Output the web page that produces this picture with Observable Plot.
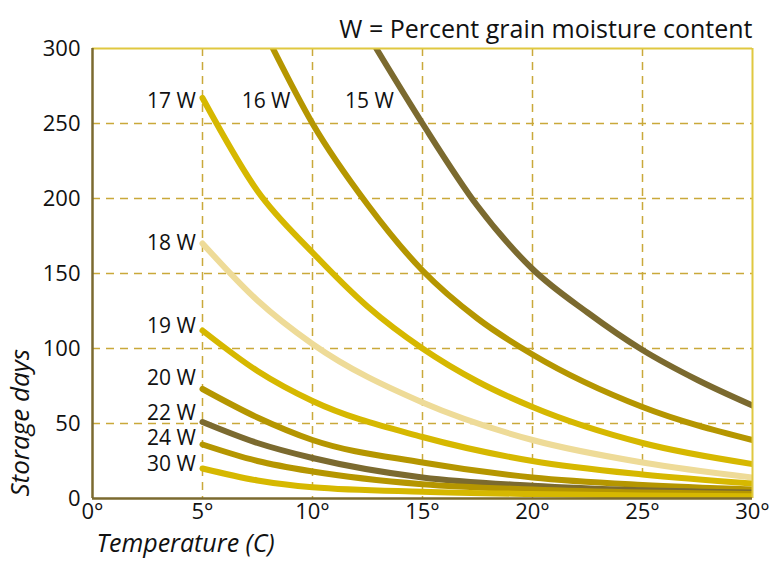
<!DOCTYPE html>
<html><head><meta charset="utf-8">
<script src="https://cdn.jsdelivr.net/npm/d3@7"></script>
<script src="https://cdn.jsdelivr.net/npm/@observablehq/plot@0.6"></script>
<style>
body{margin:0;background:#fff;}
#chart svg{font-family:"Open Sans","Noto Sans",sans-serif;}
</style></head>
<body><div id="chart"></div>
<script>
// Series: moisture content labels, temperatures (°C) and storage days
const series = ["15 W","16 W","17 W","18 W","19 W","20 W","22 W","24 W","30 W"];
const temps15 = [12.9, 15, 17.5, 20, 22.5, 25, 27.5, 30];
const days15  = [300, 250, 195, 153, 124, 99, 79, 62];
const temps16 = [8.2, 10, 12.5, 15, 17.5, 20, 25, 30];
const days16  = [300, 250, 196, 152, 120, 96, 61, 39];
const temps17 = [5, 7.5, 10, 12.5, 15, 17.5, 20, 25, 30];
const days17  = [267, 205, 164, 128, 100, 78, 61, 37, 23];
const temps18 = [5, 7.5, 10, 15, 20, 25, 30];
const days18  = [170, 132, 103, 64, 39, 24, 14];
const temps19 = [5, 7.5, 10, 15, 20, 25, 30];
const days19  = [112, 85, 65, 41, 25, 16, 10];
const temps20 = [5, 7.5, 10, 15, 20, 25, 30];
const days20  = [73, 54, 39, 24, 14, 9, 6];
const temps22 = [5, 7.5, 10, 15, 20, 25, 30];
const days22  = [51, 37, 27, 14, 8.5, 5.5, 4];
const temps24 = [5, 7.5, 10, 15, 20, 25, 30];
const days24  = [36, 25, 18, 9.5, 6, 4, 3];
const temps30 = [5, 7.5, 10, 15, 20, 25, 30];
const days30  = [20, 12, 7.5, 4.5, 3, 2, 1.5];
const seriesColors = ["#7b6a2f","#b59600","#d6b800","#eedb98","#d6b800","#b59600","#7b6a2f","#b59600","#d6b800"];
// Curve label anchor points (temperature, days)
const labelT = [13.7, 9, 4.7, 4.7, 4.7, 4.7, 4.7, 4.7, 4.7];
const labelD = [265, 265, 265, 170, 115, 80, 57, 40, 23];
const xTicks = [0, 5, 10, 15, 20, 25, 30];
const yTicks = [0, 50, 100, 150, 200, 250, 300];
const title = "W = Percent grain moisture content";
const xLabel = "Temperature (C)";
const yLabel = "Storage days";

const tempsAll = [temps15,temps16,temps17,temps18,temps19,temps20,temps22,temps24,temps30];
const daysAll = [days15,days16,days17,days18,days19,days20,days22,days24,days30];
const rows = series.flatMap((s, i) => tempsAll[i].map((t, j) => ({series: s, t, d: daysAll[i][j], order: i})));
const labels = series.map((s, i) => ({series: s, t: labelT[i], d: labelD[i]}));

const gridColor = "#c9a93a";
const chart = Plot.plot({
  width: 783, height: 562,
  marginLeft: 92, marginRight: 31, marginTop: 48, marginBottom: 64,
  style: {fontSize: "20px", color: "#111", background: "#fff"},
  x: {domain: [0, 30], label: null},
  y: {domain: [0, 300], label: null},
  color: {domain: series, range: seriesColors},
  marks: [
    Plot.gridX(xTicks.filter(d => d > 0 && d < 30), {stroke: gridColor, strokeOpacity: 1, strokeWidth: 1.5, strokeDasharray: "8,6"}),
    Plot.gridY(yTicks.filter(d => d > 0 && d < 300), {stroke: gridColor, strokeOpacity: 1, strokeWidth: 1.5, strokeDasharray: "8,6"}),
    Plot.line(rows, {x: "t", y: "d", z: "series", stroke: "series", strokeWidth: 6, curve: "monotone-x", clip: true}),
    Plot.ruleY([300], {stroke: "#e0c840", strokeWidth: 2}),
    Plot.ruleX([30], {stroke: "#e0c840", strokeWidth: 2}),
    Plot.ruleX([0], {stroke: "#7b6a2f", strokeWidth: 2.5}),
    Plot.ruleY([0], {stroke: "#7b6a2f", strokeWidth: 2.5}),
    Plot.axisX({ticks: xTicks, tickFormat: d => d + "°", tickSize: 0, tickPadding: 5, fontSize: 22, label: null}),
    Plot.axisY({ticks: yTicks, tickSize: 0, tickPadding: 12, fontSize: 22, label: null}),
    Plot.text(labels, {x: "t", y: "d", text: "series", textAnchor: "end", fontSize: 21, fill: "#111"}),
    Plot.text([title], {frameAnchor: "top-right", dy: -28, fontSize: 25, fill: "#111", textAnchor: "end"}),
    Plot.text([xLabel], {frameAnchor: "bottom-left", dx: 4, dy: 53, fontSize: 25, fontStyle: "italic", fill: "#111", textAnchor: "start"}),
    Plot.text([yLabel], {frameAnchor: "bottom-left", dx: -64, dy: -2, rotate: -90, fontSize: 26, fontStyle: "italic", fill: "#111", textAnchor: "start"})
  ]
});
document.getElementById("chart").append(chart);
</script>
</body></html>
